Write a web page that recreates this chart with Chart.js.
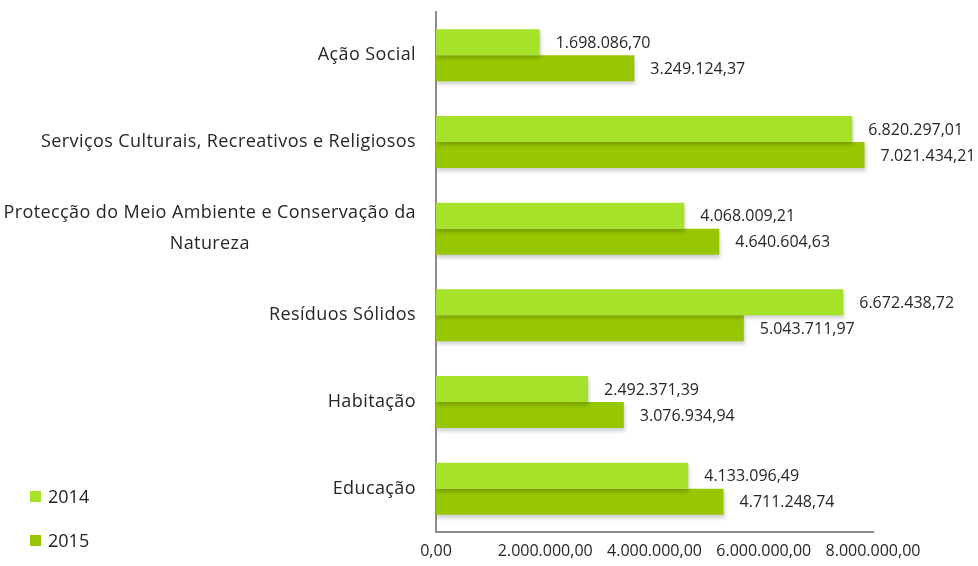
<!DOCTYPE html>
<html><head><meta charset="utf-8">
<script src="https://cdn.jsdelivr.net/npm/chart.js@4/dist/chart.umd.min.js"></script>
<style>
html,body{margin:0;padding:0;background:#fff;}
#wrap{position:relative;width:978px;height:566px;}
.lg{position:absolute;left:30px;font:18px "Open Sans",sans-serif;color:#222;display:flex;align-items:center;line-height:22px;}
.lg span.sw{display:inline-block;width:11px;height:11px;margin-right:7px;}
</style></head>
<body>
<div id="wrap"><canvas id="c" width="978" height="566"></canvas>
<div class="lg" style="top:485px"><span class="sw" style="background:#a6e22a"></span>2014</div>
<div class="lg" style="top:529px"><span class="sw" style="background:#97c700"></span>2015</div>
</div>
<script>
const categories = [
  ["Ação Social"],
  ["Serviços Culturais, Recreativos e Religiosos"],
  ["Protecção do Meio Ambiente e Conservação da", "Natureza"],
  ["Resíduos Sólidos"],
  ["Habitação"],
  ["Educação"]
];
const seriesNames = ["2014", "2015"];
const values2014 = [1698086.70, 6820297.01, 4068009.21, 6672438.72, 2492371.39, 4133096.49];
const values2015 = [3249124.37, 7021434.21, 4640604.63, 5043711.97, 3076934.94, 4711248.74];
const tickValues = [0, 2000000, 4000000, 6000000, 8000000];

function fmt(v){
  const s = v.toFixed(2);
  let [i, d] = s.split('.');
  i = i.replace(/\B(?=(\d{3})+(?!\d))/g, '.');
  return i + ',' + d;
}

const labelPlugin = {
  id: 'labels',
  afterDatasetsDraw(chart){
    const ctx = chart.ctx;
    ctx.save();
    ctx.fillStyle = '#262626';
    ctx.textBaseline = 'middle';
    // value labels
    ctx.font = '16px "Open Sans", sans-serif';
    chart.data.datasets.forEach((ds, di) => {
      const meta = chart.getDatasetMeta(di);
      meta.data.forEach((el, i) => {
        ctx.textAlign = 'left';
        ctx.fillText(fmt(ds.data[i]), el.x + 16, el.y + 1);
      });
    });
    // category labels
    ctx.font = '18px "Open Sans", sans-serif';
    if ('letterSpacing' in ctx) ctx.letterSpacing = '0.4px';
    const ys = chart.scales.y;
    categories.forEach((lines, i) => {
      const cy = ys.getPixelForValue(i);
      const widths = lines.map(l => ctx.measureText(l).width);
      const W = Math.max(...widths);
      const cx = 416 - W / 2;
      const lh = 31;
      ctx.textAlign = 'center';
      lines.forEach((l, k) => {
        ctx.fillText(l, cx, cy + (k - (lines.length - 1) / 2) * lh);
      });
    });
    ctx.restore();
  }
};
const shadowPlugin = {
  id: 'shadow',
  beforeDatasetsDraw(chart){
    const ctx = chart.ctx;
    ctx.save();
    ctx.shadowColor = 'rgba(0,0,0,0.2)';
    ctx.shadowBlur = 4;
    ctx.shadowOffsetY = 3;
    ctx.shadowOffsetX = 1;
  },
  afterDatasetsDraw(chart){ chart.ctx.restore(); }
};

new Chart(document.getElementById('c'), {
  type: 'bar',
  data: {
    labels: categories.map(c => c.join(' ')),
    datasets: [
      { label: seriesNames[0], data: values2014, backgroundColor: '#a6e22a', xAxisID: 'x', categoryPercentage: 0.6, barPercentage: 1.0 },
      { label: seriesNames[1], data: values2015, backgroundColor: '#97c700', xAxisID: 'x', categoryPercentage: 0.6, barPercentage: 1.0 }
    ]
  },
  options: {
    indexAxis: 'y',
    responsive: false,
    animation: false,
    layout: { padding: { left: 436, right: 105, top: 12, bottom: 0 } },
    plugins: { legend: { display: false }, tooltip: { enabled: false } },
    scales: {
      y: {
        ticks: { display: false },
        grid: { display: false, drawTicks: false },
        border: { display: true, color: '#8c8c8c', width: 2 },
        afterFit(s){ s.width = 0; }
      },
      x: {
        display: false,
        min: 0, max: 7160000
      },
      x2: {
        type: 'linear',
        position: 'bottom',
        min: 0, max: 8000000,
        afterBuildTicks(s){ s.ticks = tickValues.map(v => ({ value: v })); },
        ticks: { font: { family: 'Open Sans', size: 16 }, color: '#262626', padding: 10, maxRotation: 0,
                 callback: v => fmt(v) },
        grid: { display: false, drawTicks: false },
        border: { display: true, color: '#8c8c8c', width: 2 },
        afterFit(s){ s.height = 34; }
      }
    }
  },
  plugins: [shadowPlugin, labelPlugin]
});
</script>
</body></html>
